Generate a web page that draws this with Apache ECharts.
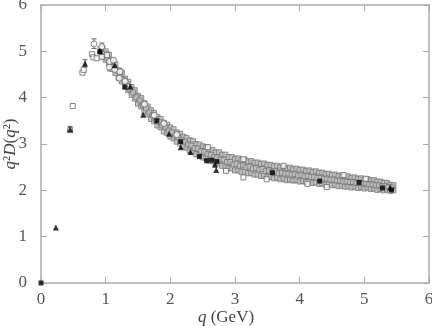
<!DOCTYPE html>
<html><head><meta charset="utf-8">
<script src="https://cdn.jsdelivr.net/npm/echarts@6/dist/echarts.min.js"></script>
<style>html,body{margin:0;padding:0;background:#fff}#c{width:432px;height:326px}</style>
</head><body><div id="c"></div>
<script>
// Tick labels
var xTicks = [0,1,2,3,4,5,6];
var yTicks = [0,1,2,3,4,5,6];

// Dense band of open squares: upper, middle and lower rows [q, q^2 D(q^2)]
var bandUpper = [[0.95,5.07],[1.00,5.00],[1.05,4.93],[1.10,4.80],[1.15,4.72],[1.20,4.59],[1.25,4.54],[1.30,4.41],[1.35,4.34],[1.40,4.23],
[1.45,4.16],[1.50,4.04],[1.55,3.99],[1.60,3.88],[1.65,3.81],[1.70,3.73],[1.75,3.67],[1.80,3.58],[1.85,3.54],[1.90,3.46],
[1.95,3.42],[2.00,3.36],[2.05,3.32],[2.10,3.25],[2.15,3.22],[2.20,3.16],[2.25,3.13],[2.30,3.08],[2.35,3.06],[2.40,3.00],
[2.45,2.99],[2.50,2.95],[2.55,2.93],[2.60,2.88],[2.65,2.87],[2.70,2.82],[2.75,2.82],[2.80,2.77],[2.85,2.77],[2.90,2.72],
[2.95,2.72],[3.00,2.68],[3.05,2.69],[3.10,2.65],[3.15,2.66],[3.20,2.62],[3.25,2.63],[3.30,2.60],[3.35,2.60],[3.40,2.57],
[3.45,2.58],[3.50,2.55],[3.55,2.55],[3.60,2.52],[3.65,2.53],[3.70,2.50],[3.75,2.51],[3.80,2.48],[3.85,2.49],[3.90,2.46],
[3.95,2.47],[4.00,2.44],[4.05,2.45],[4.10,2.42],[4.15,2.43],[4.20,2.40],[4.25,2.41],[4.30,2.38],[4.35,2.38],[4.40,2.35],
[4.45,2.36],[4.50,2.33],[4.55,2.34],[4.60,2.31],[4.65,2.32],[4.70,2.29],[4.75,2.30],[4.80,2.27],[4.85,2.28],[4.90,2.25],
[4.95,2.26],[5.00,2.23],[5.05,2.24],[5.10,2.21],[5.15,2.22],[5.20,2.19],[5.25,2.19],[5.30,2.16],[5.35,2.16],[5.40,2.12],[5.45,2.11]];

var bandMiddle = [[0.975,4.95],[1.025,4.86],[1.075,4.78],[1.125,4.66],[1.175,4.58],[1.225,4.47],[1.275,4.39],[1.325,4.30],[1.375,4.19],[1.425,4.11],
[1.475,4.01],[1.525,3.94],[1.575,3.84],[1.625,3.77],[1.675,3.68],[1.725,3.62],[1.775,3.53],[1.825,3.48],[1.875,3.40],[1.925,3.36],
[1.975,3.29],[2.025,3.25],[2.075,3.18],[2.125,3.14],[2.175,3.08],[2.225,3.05],[2.275,2.99],[2.325,2.97],[2.375,2.91],[2.425,2.90],
[2.475,2.85],[2.525,2.83],[2.575,2.78],[2.625,2.77],[2.675,2.72],[2.725,2.71],[2.775,2.67],[2.825,2.66],[2.875,2.61],[2.925,2.61],
[2.975,2.56],[3.025,2.57],[3.075,2.53],[3.125,2.54],[3.175,2.50],[3.225,2.51],[3.275,2.47],[3.325,2.48],[3.375,2.45],[3.425,2.46],
[3.475,2.42],[3.525,2.43],[3.575,2.40],[3.625,2.41],[3.675,2.37],[3.725,2.38],[3.775,2.36],[3.825,2.36],[3.875,2.34],[3.925,2.35],
[3.975,2.32],[4.025,2.33],[4.075,2.30],[4.125,2.31],[4.175,2.29],[4.225,2.29],[4.275,2.27],[4.325,2.27],[4.375,2.25],[4.425,2.25],
[4.475,2.23],[4.525,2.23],[4.575,2.21],[4.625,2.21],[4.675,2.19],[4.725,2.19],[4.775,2.18],[4.825,2.18],[4.875,2.16],[4.925,2.16],
[4.975,2.15],[5.025,2.15],[5.075,2.13],[5.125,2.13],[5.175,2.11],[5.225,2.11],[5.275,2.09],[5.325,2.09],[5.375,2.07],[5.425,2.06]];

var bandLower = [[0.95,4.90],[1.00,4.82],[1.05,4.74],[1.10,4.62],[1.15,4.53],[1.20,4.43],[1.25,4.35],[1.30,4.24],[1.35,4.16],[1.40,4.06],
[1.45,3.98],[1.50,3.87],[1.55,3.81],[1.60,3.70],[1.65,3.64],[1.70,3.54],[1.75,3.49],[1.80,3.40],[1.85,3.36],[1.90,3.27],
[1.95,3.24],[2.00,3.16],[2.05,3.12],[2.10,3.05],[2.15,3.01],[2.20,2.95],[2.25,2.92],[2.30,2.86],[2.35,2.84],[2.40,2.78],
[2.45,2.77],[2.50,2.71],[2.55,2.70],[2.60,2.64],[2.65,2.63],[2.70,2.58],[2.75,2.58],[2.80,2.53],[2.85,2.52],[2.90,2.48],
[2.95,2.47],[3.00,2.43],[3.05,2.43],[3.10,2.40],[3.15,2.40],[3.20,2.37],[3.25,2.37],[3.30,2.34],[3.35,2.34],[3.40,2.31],
[3.45,2.32],[3.50,2.29],[3.55,2.29],[3.60,2.26],[3.65,2.27],[3.70,2.24],[3.75,2.25],[3.80,2.22],[3.85,2.23],[3.90,2.21],
[3.95,2.22],[4.00,2.19],[4.05,2.20],[4.10,2.18],[4.15,2.19],[4.20,2.16],[4.25,2.17],[4.30,2.14],[4.35,2.15],[4.40,2.12],
[4.45,2.14],[4.50,2.11],[4.55,2.12],[4.60,2.09],[4.65,2.10],[4.70,2.08],[4.75,2.09],[4.80,2.06],[4.85,2.08],[4.90,2.05],
[4.95,2.07],[5.00,2.04],[5.05,2.06],[5.10,2.03],[5.15,2.04],[5.20,2.01],[5.25,2.03],[5.30,2.00],[5.35,2.02],[5.40,1.99],[5.45,2.00]];

// Scattered open squares (low q and band edges)
var openSquares = [[0.45,3.30],[0.49,3.82],[0.64,4.54],[0.66,4.60],[0.79,4.94],[0.81,4.87],[0.86,4.85],[0.92,5.05],[0.94,4.88],[1.02,4.92],
[3.13,2.67],[3.13,2.28],[3.49,2.24],[3.75,2.53],[4.12,2.14],[2.58,2.93],[2.86,2.42],[4.68,2.33],[5.02,2.25],[4.42,2.07]];

// Open circles
var openCircles = [[0.82,5.16],[0.94,5.10],[1.06,4.66],[1.06,4.78],[1.12,4.81],[1.14,4.61],[1.22,4.56],[1.21,4.42],[1.30,4.35],[1.33,4.24],
[1.60,3.86],[1.75,3.62],[1.90,3.44],[2.10,3.20]];

// Filled triangles
var blackTriangles = [[0.23,1.20],[0.45,3.32],[0.68,4.74],[0.91,5.02],[1.14,4.70],[1.38,4.24],[1.58,3.63],[1.98,3.22],[2.16,2.93],[2.31,2.83],
[2.69,2.55],[2.71,2.44],[5.40,2.06]];

// Filled squares
var blackSquares = [[0.00,0.00],[0.91,4.99],[1.30,4.23],[1.79,3.50],[2.16,3.05],[2.45,2.73],[2.56,2.64],[2.64,2.65],[2.72,2.62],[3.58,2.38],
[4.31,2.20],[4.92,2.17],[5.28,2.05],[5.42,2.01]];

// Error bars [q, low, high]
var errBars = [[0.82,5.06,5.27],[0.45,3.25,3.38],[0.68,4.67,4.82],[0.94,5.03,5.18],[1.06,4.58,4.74],[1.22,4.48,4.62]];

var chart = echarts.init(document.getElementById('c'), null, {renderer:'canvas'});
var axisCol = '#aaaaaa';
var labelStyle = {color:'#555', fontFamily:'Liberation Serif', fontSize:17};
function baseAxis(extra){
  return Object.assign({
    type:'value', min:0, max:6, interval:1,
    axisLine:{show:true, onZero:false, lineStyle:{color:axisCol, width:1.5}},
    axisTick:{show:true, inside:true, length:6, lineStyle:{color:axisCol, width:1}},
    splitLine:{show:false}
  }, extra);
}
var bandStyle = {color:'#c0c0c0', borderColor:'#767676', borderWidth:1};
var option = {
  animation:false,
  backgroundColor:'#fff',
  grid:{left:41, right:3, top:5, bottom:43, containLabel:false, outerBoundsMode:'none'},
  xAxis:[
    baseAxis({position:'bottom',
      axisLabel:Object.assign({margin:8, formatter:function(v){return xTicks.indexOf(v)>=0?String(v):'';}}, labelStyle),
      name:'{i|q} (GeV)', nameLocation:'middle', nameGap:26, nameMoveOverlap:false,
      nameTextStyle:{color:'#444', fontFamily:'Liberation Serif', fontSize:17, padding:[0,18,0,0],
        rich:{i:{fontStyle:'italic', fontFamily:'Liberation Serif', fontSize:17, color:'#444'}}}}),
    baseAxis({position:'top', axisLabel:{show:false}})
  ],
  yAxis:[
    baseAxis({position:'left',
      axisLabel:Object.assign({margin:14, formatter:function(v){return yTicks.indexOf(v)>=0?String(v):'';}}, labelStyle),
      name:'{i|q}²{i|D}({i|q}²)', nameLocation:'middle', nameGap:22, nameRotate:90, nameMoveOverlap:false,
      nameTextStyle:{color:'#444', fontFamily:'Liberation Serif', fontSize:17,
        rich:{i:{fontStyle:'italic', fontFamily:'Liberation Serif', fontSize:17, color:'#444'}}}}),
    baseAxis({position:'right', axisLabel:{show:false}})
  ],
  series:[
    {type:'scatter', data:bandUpper, symbol:'rect', symbolSize:5, itemStyle:bandStyle},
    {type:'scatter', data:bandLower, symbol:'rect', symbolSize:5, itemStyle:bandStyle},
    {type:'scatter', data:bandMiddle, symbol:'rect', symbolSize:5, itemStyle:bandStyle},
    {type:'scatter', data:openSquares, symbol:'rect', symbolSize:5, itemStyle:{color:'#fff', borderColor:'#666', borderWidth:1}},
    {type:'scatter', data:openCircles, symbol:'circle', symbolSize:6, itemStyle:{color:'#fff', borderColor:'#666', borderWidth:1}},
    {type:'custom', data:errBars, renderItem:function(params, api){
      var x = api.value(0), lo = api.coord([x, api.value(1)]), hi = api.coord([x, api.value(2)]);
      var w = 2.5;
      return {type:'group', children:[
        {type:'line', shape:{x1:lo[0], y1:lo[1], x2:hi[0], y2:hi[1]}, style:{stroke:'#666', lineWidth:1}},
        {type:'line', shape:{x1:lo[0]-w, y1:lo[1], x2:lo[0]+w, y2:lo[1]}, style:{stroke:'#666', lineWidth:1}},
        {type:'line', shape:{x1:hi[0]-w, y1:hi[1], x2:hi[0]+w, y2:hi[1]}, style:{stroke:'#666', lineWidth:1}}
      ]};
    }, z:1},
    {type:'scatter', data:blackTriangles, symbol:'triangle', symbolSize:6, itemStyle:{color:'#000'}, z:5},
    {type:'scatter', data:blackSquares, symbol:'rect', symbolSize:5, itemStyle:{color:'#000'}, z:5, clip:false}
  ]
};
chart.setOption(option);
</script></body></html>
